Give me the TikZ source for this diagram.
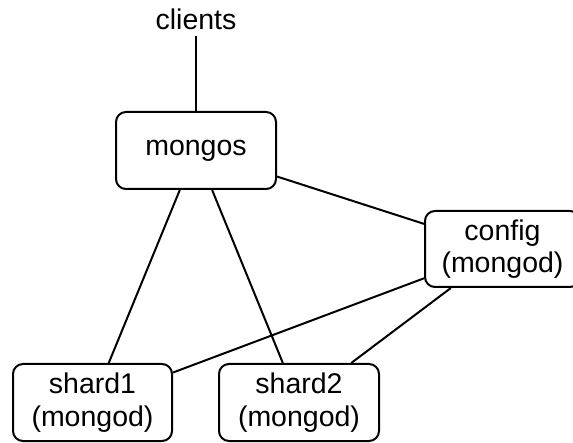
\documentclass[tikz,border=0pt]{standalone}
\usepackage{fontspec}
\setmainfont{Liberation Sans}
\begin{document}
\begin{tikzpicture}[x=1pt,y=1pt,
  box/.style={draw,line width=2pt,rounded corners=10pt,inner sep=0pt,align=center,
    font=\fontsize{28.5}{32.5}\selectfont},
  link/.style={line width=2pt}]
\useasboundingbox (0,0) rectangle (573,442);
\clip (0,0) rectangle (573,442);
\node[font=\fontsize{28.5}{32.5}\selectfont,inner sep=6pt] (clients) at (196,423) {clients};
\node[box,minimum width=160pt,minimum height=77pt] (mongos) at (196,291.5) {mongos};
\node[box,minimum width=155pt,minimum height=76pt] (config) at (502.5,193) {config\\(mongod)};
\node[box,minimum width=159pt,minimum height=77pt] (shard1) at (92.5,39.5) {shard1\\(mongod)};
\node[box,minimum width=160pt,minimum height=77pt] (shard2) at (299,39.5) {shard2\\(mongod)};
\draw[link] (clients) -- (mongos);
\draw[link] (mongos) -- (config);
\draw[link] (mongos) -- (shard1);
\draw[link] (mongos) -- (shard2);
\draw[link] (config) -- (shard1);
\draw[link] (config) -- (shard2);
\end{tikzpicture}
\end{document}
